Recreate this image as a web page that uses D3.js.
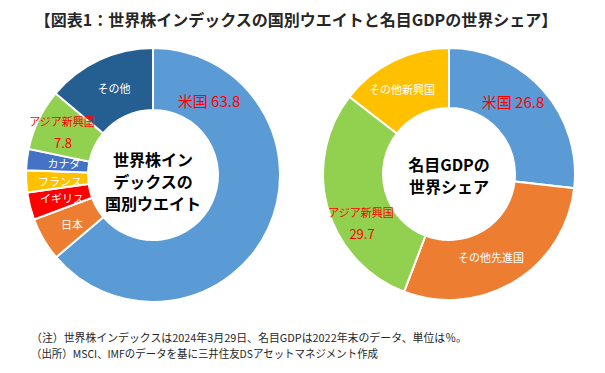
<!DOCTYPE html>
<html>
<head>
<meta charset="utf-8">
<script src="https://cdn.jsdelivr.net/npm/d3@7"></script>
<style>
  body { margin: 0; background: #fff; }
  svg { display: block; font-family: "Noto Sans CJK JP", "Noto Sans", sans-serif; }
</style>
</head>
<body>
<div id="chart"></div>
<script>
// left donut: world equity index weights (%)
var indexCategories = ['米国', '日本', 'イギリス', 'フランス', 'カナダ', 'アジア新興国', 'その他'];
var indexValues = [63.8, 5.5, 3.5, 2.8, 2.7, 7.8, 13.9];
var indexColors = ['#5b9bd5', '#ed7d31', '#ff0000', '#ffc000', '#4472c4', '#92d050', '#255e91'];
var indexShowValue = [true, false, false, false, false, true, false];

// right donut: nominal GDP share (%)
var gdpCategories = ['米国', 'その他先進国', 'アジア新興国', 'その他新興国'];
var gdpValues = [26.8, 29.0, 29.7, 14.5];
var gdpColors = ['#5b9bd5', '#ed7d31', '#92d050', '#ffc000'];
var gdpShowValue = [true, false, true, false];

var width = 605, height = 373;

var svg = d3.select('#chart').append('svg')
    .attr('width', width)
    .attr('height', height);

svg.append('text')
    .attr('x', 296).attr('y', 26)
    .attr('text-anchor', 'middle')
    .attr('font-size', 16).attr('font-weight', 'bold')
    .attr('fill', '#262626')
    .text('【図表1：世界株インデックスの国別ウエイトと名目GDPの世界シェア】');

var drawDonut = function (opts) {
    var pie = d3.pie().sort(null).value(function (d) { return d; });
    var arc = d3.arc().innerRadius(opts.inner).outerRadius(opts.outer);
    var g = svg.append('g').attr('transform', 'translate(' + opts.cx + ',' + opts.cy + ')');

    var arcs = pie(opts.values);

    g.selectAll('path.slice')
        .data(arcs)
        .enter()
        .append('path').attr('class', 'slice')
        .attr('d', arc)
        .attr('fill', function (d, i) { return opts.colors[i]; })
        .attr('stroke', '#fff')
        .attr('stroke-width', 2);

    // labels were hand placed in the original, so use offsets from centre
    arcs.forEach(function (d, i) {
        var p = opts.labelPos[i],
            red = opts.showValue[i],
            name = opts.categories[i],
            val = opts.values[i].toFixed(1);
        var t = g.append('text')
            .attr('x', p[0]).attr('y', p[1])
            .attr('dy', '0.35em')
            .attr('text-anchor', 'middle')
            .attr('fill', red ? '#ff0000' : '#fff')
            .attr('font-size', p[2]);
        if (red && p[3] === 'inline') {
            t.text(name + ' ' + val);
        } else if (red) {
            t.text(name);
            g.append('text')
                .attr('x', p[0] + 1).attr('y', p[1] + 21)
                .attr('dy', '0.35em')
                .attr('text-anchor', 'middle')
                .attr('fill', '#ff0000')
                .attr('font-size', 13)
                .text(val);
        } else {
            t.text(name);
        }
    });

    opts.centerLines.forEach(function (line, i) {
        g.append('text')
            .attr('x', 0)
            .attr('y', opts.centerY0 + i * 22)
            .attr('dy', '0.35em')
            .attr('text-anchor', 'middle')
            .attr('font-size', 16)
            .attr('font-weight', 'bold')
            .attr('fill', '#000')
            .text(line);
    });
};

drawDonut({
    cx: 153, cy: 175, inner: 65, outer: 127,
    values: indexValues, categories: indexCategories, colors: indexColors,
    showValue: indexShowValue,
    labelPos: [[56, -73, 15, 'inline'], [-81, 50, 11], [-91, 24, 11], [-93, 7, 11],
               [-89, -11, 11], [-91, -53, 11], [-39, -86, 11]],
    centerLines: ['世界株イン', 'デックスの', '国別ウエイト'],
    centerY0: -15
});

drawDonut({
    cx: 449, cy: 174, inner: 66, outer: 126,
    values: gdpValues, categories: gdpCategories, colors: gdpColors,
    showValue: gdpShowValue,
    labelPos: [[64, -71, 15, 'inline'], [42, 84, 11], [-88, 39, 11], [-47, -84, 11]],
    centerLines: ['名目GDPの', '世界シェア'],
    centerY0: -9
});

var notes = [
    '（注）世界株インデックスは2024年3月29日、名目GDPは2022年末のデータ、単位は％。',
    '（出所）MSCI、IMFのデータを基に三井住友DSアセットマネジメント作成'
];
var noteLengths = [436, 347];
svg.selectAll('text.note')
    .data(notes)
    .enter()
    .append('text').attr('class', 'note')
    .attr('x', 31)
    .attr('y', function (d, i) { return 338 + i * 16; })
    .attr('dy', '0.35em')
    .attr('font-size', 11)
    .attr('fill', '#262626')
    .attr('textLength', function (d, i) { return noteLengths[i]; })
    .attr('lengthAdjust', 'spacingAndGlyphs')
    .text(function (d) { return d; });
</script>
</body>
</html>
